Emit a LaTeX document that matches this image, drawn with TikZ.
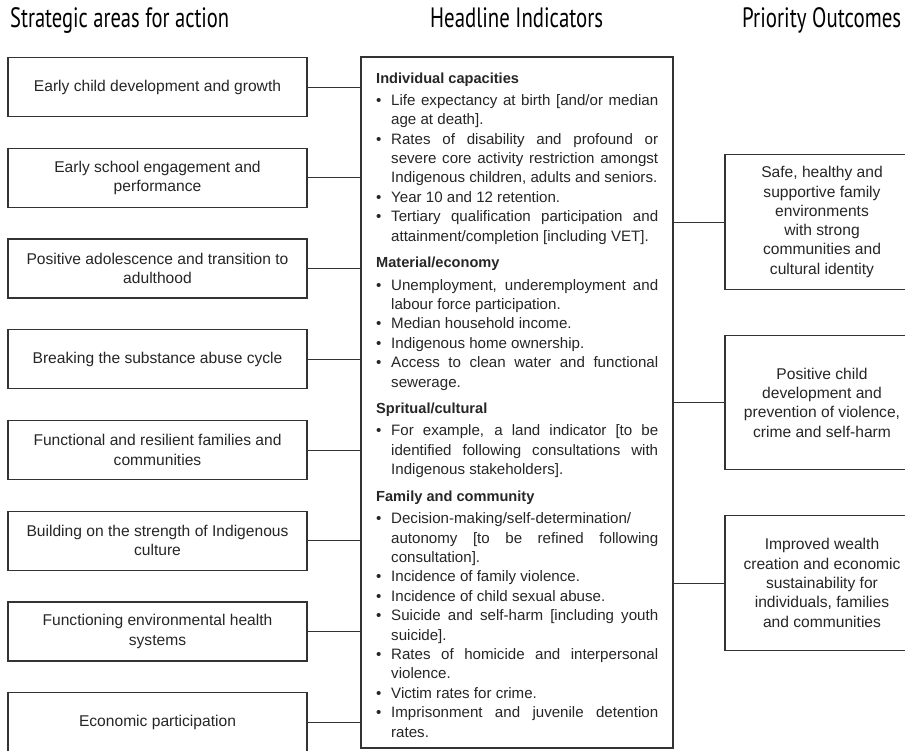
\documentclass[tikz,border=0pt]{standalone}
\usepackage{fontspec}
\usepackage{graphicx}
\setmainfont{Liberation Sans}
\newfontfamily\hfont{PT Sans}
\newcommand{\hdr}[2]{\resizebox{#1}{\height}{\hfont\fontsize{28}{30}\selectfont #2}}
\newcommand{\jl}[1]{\makebox[267pt][s]{#1}}
\newcommand{\bl}{\makebox[15pt][l]{\textbullet}}
\newcommand{\il}{\hspace*{15pt}}
\newcommand{\hd}[1]{{\fontsize{14.6}{19.4}\selectfont\bfseries #1}}
\tikzset{
  sbox/.style={draw=black!80, line width=1.1pt, minimum width=299pt, minimum height=59pt,
    align=center, inner sep=0pt, text=black!85, font=\fontsize{15.6}{19.3}\selectfont},
  obox/.style={draw=black!80, line width=1.1pt, minimum width=194pt, minimum height=134.5pt,
    align=center, inner sep=0pt, text=black!85, font=\fontsize{15.6}{19.3}\selectfont},
  ibox/.style={draw=black!80, line width=1.1pt, minimum width=312pt, minimum height=691pt, inner sep=0pt},
  conn/.style={draw=black!80, line width=1pt},
  hnode/.style={anchor=base west, inner sep=0pt, text=black},
  itext/.style={anchor=base west, inner sep=0pt, text=black!85, font=\fontsize{15.1}{19.4}\selectfont}
}
\begin{document}
\begin{tikzpicture}[x=1pt,y=-1pt]
\useasboundingbox (0,0) rectangle (905,750);
\clip (0,0) rectangle (905,750);
\fill[white] (0,0) rectangle (905,750);

% headers
\node[hnode] (h1) at (10,27) {\hdr{219pt}{Strategic areas for action}};
\node[hnode] (h2) at (430,27) {\hdr{173pt}{Headline Indicators}};
\node[hnode] (h3) at (742,27) {\hdr{159pt}{Priority Outcomes}};

% left boxes
\node[sbox] (s1) at (157.5,87) {Early child development and growth};
\node[sbox] (s2) at (157.5,177.75) {Early school engagement and\\performance};
\node[sbox] (s3) at (157.5,268.5) {Positive adolescence and transition to\\adulthood};
\node[sbox] (s4) at (157.5,359.25) {Breaking the substance abuse cycle};
\node[sbox] (s5) at (157.5,450) {Functional and resilient families and\\communities};
\node[sbox] (s6) at (157.5,540.75) {Building on the strength of Indigenous\\culture};
\node[sbox] (s7) at (157.5,631.5) {Functioning environmental health\\systems};
\node[sbox] (s8) at (157.5,722.25) {Economic participation};

% centre box
\node[ibox] (hi) at (517,402.5) {};
\node[itext] (hitext) at (376,83) {\parbox[t]{330pt}{%
\fontsize{15.1}{19.4}\selectfont
\hd{Individual capacities}\par\vspace{2.9pt}
\bl\jl{Life expectancy at birth [and/or median}\par
\il age at death].\par
\bl\jl{Rates of disability and profound or}\par
\il\jl{severe core activity restriction amongst}\par
\il Indigenous children, adults and seniors.\par
\bl Year 10 and 12 retention.\par
\bl\jl{Tertiary qualification participation and}\par
\il attainment/completion [including VET].\par\vspace{7.2pt}
\hd{Material/economy}\par\vspace{2.9pt}
\bl\jl{Unemployment, underemployment and}\par
\il labour force participation.\par
\bl Median household income.\par
\bl Indigenous home ownership.\par
\bl\jl{Access to clean water and functional}\par
\il sewerage.\par\vspace{7.2pt}
\hd{Spritual/cultural}\par\vspace{2.9pt}
\bl\jl{For example, a land indicator [to be}\par
\il\jl{identified following consultations with}\par
\il Indigenous stakeholders].\par\vspace{7.2pt}
\hd{Family and community}\par\vspace{2.9pt}
\bl Decision-making/self-determination/\par
\il\jl{autonomy [to be refined following}\par
\il consultation].\par
\bl Incidence of family violence.\par
\bl Incidence of child sexual abuse.\par
\bl\jl{Suicide and self-harm [including youth}\par
\il suicide].\par
\bl\jl{Rates of homicide and interpersonal}\par
\il violence.\par
\bl Victim rates for crime.\par
\bl\jl{Imprisonment and juvenile detention}\par
\il rates.}};

% right boxes
\node[obox] (o1) at (822,222) {Safe, healthy and\\supportive family\\environments\\with strong\\communities and\\cultural identity};
\node[obox] (o2) at (822,402.5) {Positive child\\development and\\prevention of violence,\\crime and self-harm};
\node[obox] (o3) at (822,583) {Improved wealth\\creation and economic\\sustainability for\\individuals, families\\and communities};

% connectors
\foreach \i in {1,...,8} {
  \draw[conn] (s\i.east) -- (s\i.east -| hi.west);
}
\foreach \i in {1,2,3} {
  \draw[conn] (hi.east |- o\i.west) -- (o\i.west);
}
\end{tikzpicture}
\end{document}
